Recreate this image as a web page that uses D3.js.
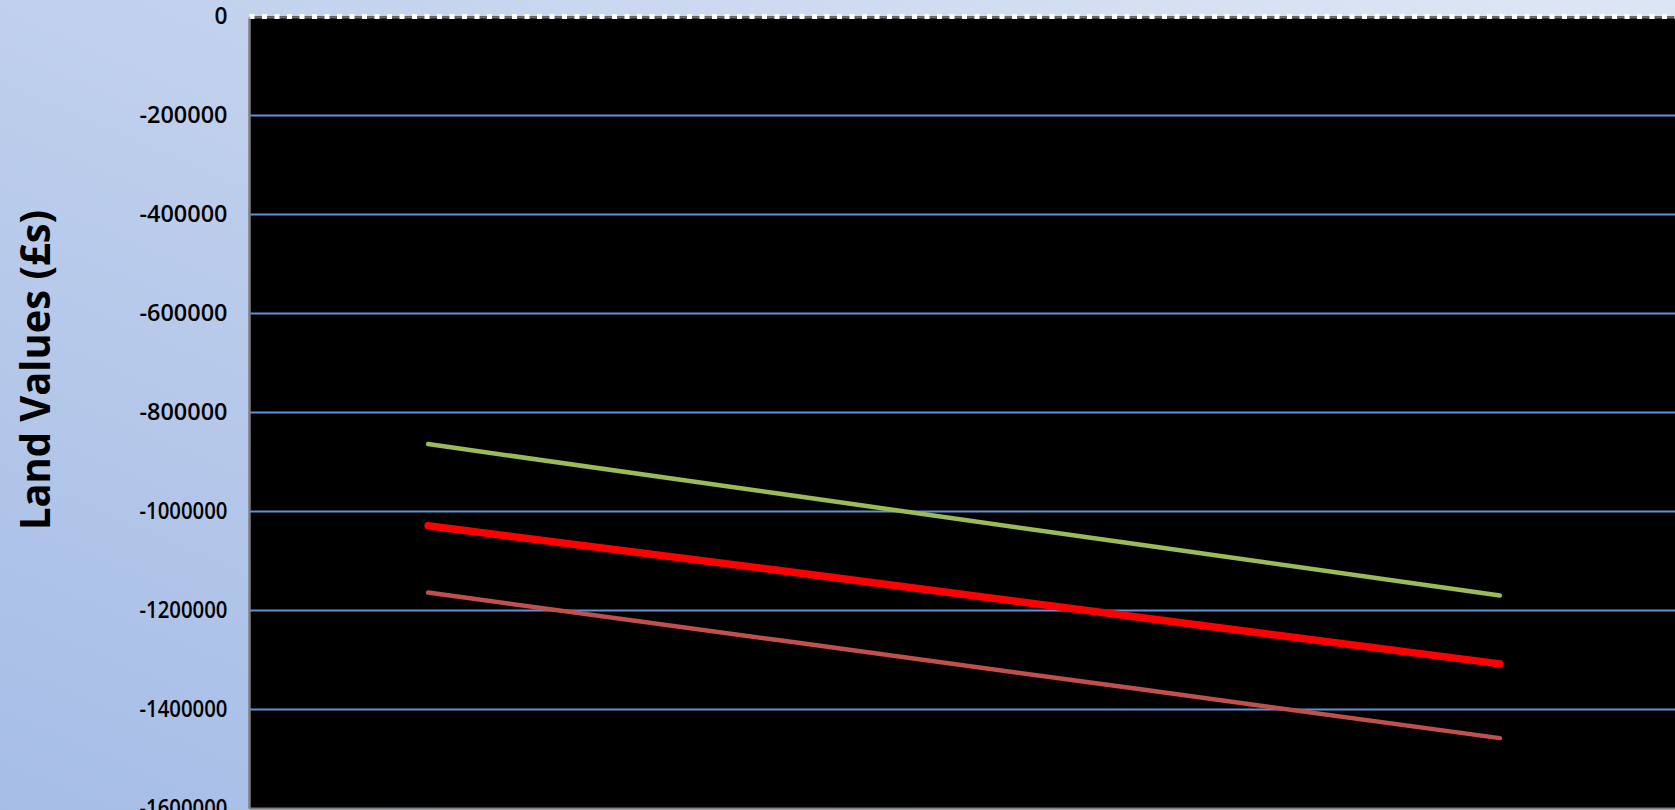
<!DOCTYPE html>
<html>
<head>
<meta charset="utf-8">
<script src="https://cdn.jsdelivr.net/npm/d3@7"></script>
<style>
  html, body { margin: 0; padding: 0; overflow: hidden; }
  svg { display: block; }
</style>
</head>
<body>
<div id="chart"></div>
<script>
// Data (x axis labels are cut off in the reference)
const categories = ["1", "2", "3", "4"];
const greenSeries = [-864000, -966000, -1068000, -1170000];
const redSeries = [-1029000, -1121000, -1215000, -1308000];
const brownSeries = [-1164000, -1262000, -1360000, -1458000];
const yTicks = [0, -200000, -400000, -600000, -800000, -1000000, -1200000, -1400000, -1600000];

const series = [
    {name: "green", values: greenSeries, color: "#9bbb59", width: 4.5},
    {name: "brown", values: brownSeries, color: "#c0504d", width: 4.5},
    {name: "red", values: redSeries, color: "#ff0000", width: 7.5}
];

const W = 1675, H = 810;
const margin = {top: 16.4, left: 249.5},
      width = 1429,
      height = 792;

const svg = d3.select("#chart").append("svg")
    .attr("width", W)
    .attr("height", H);

// background gradient
const defs = svg.append("defs");
const grad = defs.append("linearGradient")
    .attr("id", "bg")
    .attr("x1", "0.9").attr("y1", "0")
    .attr("x2", "0").attr("y2", "1");
grad.append("stop").attr("offset", "0").attr("stop-color", "#dce5f4");
grad.append("stop").attr("offset", "0.35").attr("stop-color", "#c4d3ee");
grad.append("stop").attr("offset", "1").attr("stop-color", "#a6bde6");

svg.append("rect")
    .attr("width", W).attr("height", H)
    .attr("fill", "url(#bg)");

const g = svg.append("g")
    .attr("transform", "translate(" + margin.left + "," + margin.top + ")");

const x = d3.scaleBand().domain(categories).range([0, width]);
const y = d3.scaleLinear().domain([-1600000, 0]).range([height, 0]);

// plot area
g.append("rect")
    .attr("x", 0).attr("y", 0)
    .attr("width", width).attr("height", height)
    .attr("fill", "#000");

// gridlines
g.append("g")
    .selectAll("line")
    .data(yTicks.filter(d => d !== 0 && d !== -1600000))
    .enter().append("line")
        .attr("x1", 0).attr("x2", width)
        .attr("y1", d => y(d)).attr("y2", d => y(d))
        .attr("stroke", "#5b93dc")
        .attr("stroke-width", 2);

// zero line: dashed white on gray
g.append("line")
    .attr("x1", 0).attr("x2", W)
    .attr("y1", y(0) + 1).attr("y2", y(0) + 1)
    .attr("stroke", "#6e6e6e")
    .attr("stroke-width", 2);
g.append("line")
    .attr("x1", 0).attr("x2", W)
    .attr("y1", y(0)).attr("y2", y(0))
    .attr("stroke", "#ffffff")
    .attr("stroke-width", 5)
    .attr("stroke-dasharray", "5,7.5");

// left and bottom axis lines
g.append("line")
    .attr("x1", 0).attr("x2", 0)
    .attr("y1", y(0) + 2).attr("y2", height)
    .attr("stroke", "#7f7f7f")
    .attr("stroke-width", 2.5);
g.append("line")
    .attr("x1", 0).attr("x2", width)
    .attr("y1", height).attr("y2", height)
    .attr("stroke", "#7f7f7f")
    .attr("stroke-width", 2);

// y axis labels (plain hyphen, like the original)
const yAxis = d3.axisLeft(y)
    .tickValues(yTicks)
    .tickFormat(d => String(d))
    .tickSize(0)
    .tickPadding(22);

const yg = g.append("g").call(yAxis);
yg.select(".domain").remove();
yg.selectAll("text")
    .attr("fill", "#000")
    .style("font-family", "'Open Sans', sans-serif")
    .style("font-weight", "600")
    .style("font-size", "23px")
    .attr("textLength", d => d === 0 ? 13 : 88)
    .attr("lengthAdjust", "spacingAndGlyphs");

// axis title
svg.append("text")
    .attr("transform", "translate(50,370) rotate(-90) scale(1,1.2)")
    .attr("text-anchor", "middle")
    .style("font-family", "'Open Sans', sans-serif")
    .style("font-weight", "700")
    .style("font-size", "34px")
    .attr("fill", "#000")
    .attr("textLength", 320)
    .attr("lengthAdjust", "spacingAndGlyphs")
    .text("Land Values (£s)");

// lines
const line = d3.line()
    .x((d, i) => x(categories[i]) + x.bandwidth() / 2)
    .y(d => y(d));

g.selectAll(".series")
    .data(series)
    .enter().append("path")
        .attr("class", "series")
        .attr("d", d => line(d.values))
        .attr("fill", "none")
        .attr("stroke", d => d.color)
        .attr("stroke-width", d => d.width)
        .attr("stroke-linecap", "round");
</script>
</body>
</html>
